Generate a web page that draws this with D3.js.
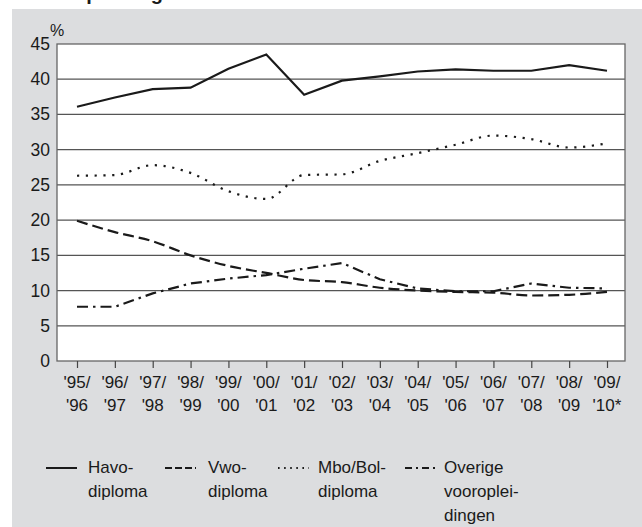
<!DOCTYPE html>
<html><head><meta charset="utf-8">
<script src="https://cdn.jsdelivr.net/npm/d3@7"></script>
<style>body{margin:0;background:#fff}svg{display:block}text{font-family:"Liberation Sans",Arial,sans-serif;fill:#1a1a1a}</style>
</head><body><svg id="c" width="642" height="527"></svg>
<script>
const years1 = ["'95/","'96/","'97/","'98/","'99/","'00/","'01/","'02/","'03/","'04/","'05/","'06/","'07/","'08/","'09/"];
const years2 = ["'96","'97","'98","'99","'00","'01","'02","'03","'04","'05","'06","'07","'08","'09","'10*"];
const havo = [36.1,37.4,38.6,38.8,41.5,43.5,37.8,39.8,40.4,41.1,41.4,41.2,41.2,42.0,41.2];
const vwo = [19.9,18.3,17.0,15.0,13.5,12.5,11.5,11.2,10.4,10.0,9.8,9.7,9.3,9.4,9.8];
const mbo = [26.3,26.4,27.8,26.7,24.1,23.0,26.4,26.5,28.4,29.5,30.7,32.0,31.5,30.3,30.9];
const overige = [7.7,7.7,9.6,11.0,11.7,12.2,13.1,13.9,11.6,10.3,9.9,9.9,11.0,10.4,10.3];
const yTicks = [0,5,10,15,20,25,30,35,40,45];
const seriesNames = [["Havo-","diploma"],["Vwo-","diploma"],["Mbo/Bol-","diploma"],["Overige","vooroplei-","dingen"]];

const svg = d3.select("#c");
const L=57,T=44,R=625,B=361;
svg.append("rect").attr("x",12).attr("y",9).attr("width",630).attr("height",518).attr("fill","#dcdddf");
svg.append("text").attr("x",30).attr("y",0).attr("font-size",20).attr("font-weight","bold").text("Vooropleiding");
svg.append("rect").attr("x",L).attr("y",T).attr("width",R-L).attr("height",B-T).attr("fill","#fff");

const x = d3.scalePoint().domain(d3.range(years1.length)).range([77,607]);
const y = d3.scaleLinear().domain([0,45]).range([B,T]);

svg.append("g").selectAll("line").data(yTicks.filter(d=>d>0&&d<45)).join("line")
 .attr("x1",L).attr("x2",R).attr("y1",d=>y(d)).attr("y2",d=>y(d)).attr("stroke","#555").attr("stroke-width",1.2);
svg.append("rect").attr("x",L).attr("y",T).attr("width",R-L).attr("height",B-T).attr("fill","none").attr("stroke","#666").attr("stroke-width",1.3);

svg.append("g").selectAll("text").data(yTicks).join("text")
 .attr("x",50).attr("y",d=>y(d)+6).attr("text-anchor","end").attr("font-size",17.5).text(d=>d);
svg.append("text").attr("x",50).attr("y",36).attr("font-size",16).text("%");

const xa = svg.append("g").attr("transform",`translate(0,${B})`)
 .call(d3.axisBottom(x).tickSize(7).tickFormat(""));
xa.select(".domain").remove();
xa.selectAll("line").attr("stroke","#444").attr("stroke-width",1.2);
const xl = svg.append("g").selectAll("text").data(d3.range(years1.length)).join("text")
 .attr("text-anchor","middle").attr("font-size",17);
xl.append("tspan").attr("x",d=>x(d)).attr("y",388).text(d=>years1[d]);
xl.append("tspan").attr("x",d=>x(d)).attr("y",411).text(d=>years2[d]);

const styles = [
 {data:havo,dash:null,curve:d3.curveLinear,w:2.2},
 {data:vwo,dash:"11,5",curve:d3.curveMonotoneX,w:2.2},
 {data:mbo,dash:"2.2,6.6",curve:d3.curveMonotoneX,w:2.2},
 {data:overige,dash:"11,5,2.5,5",curve:d3.curveLinear,w:2.2}
];
styles.forEach(s=>{
 const line = d3.line().x((d,i)=>x(i)).y(d=>y(d)).curve(s.curve);
 svg.append("path").datum(s.data).attr("d",line).attr("fill","none").attr("stroke","#1a1a1a")
  .attr("stroke-width",s.w).attr("stroke-dasharray",s.dash).attr("stroke-linejoin","miter");
});

const lx=[46,165,278,405], tx=[88,208,318,444];
styles.forEach((s,i)=>{
 svg.append("line").attr("x1",lx[i]).attr("x2",lx[i]+31).attr("y1",468).attr("y2",468)
  .attr("stroke","#1a1a1a").attr("stroke-width",2).attr("stroke-dasharray",i==3?"7,4,2,4":(i==1?"7,3":s.dash==null?null:"1.6,4.5"));
 const t = svg.append("text").attr("font-size",17);
 seriesNames[i].forEach((n,j)=>t.append("tspan").attr("x",tx[i]).attr("y",473+j*24).text(n));
});
</script></body></html>
